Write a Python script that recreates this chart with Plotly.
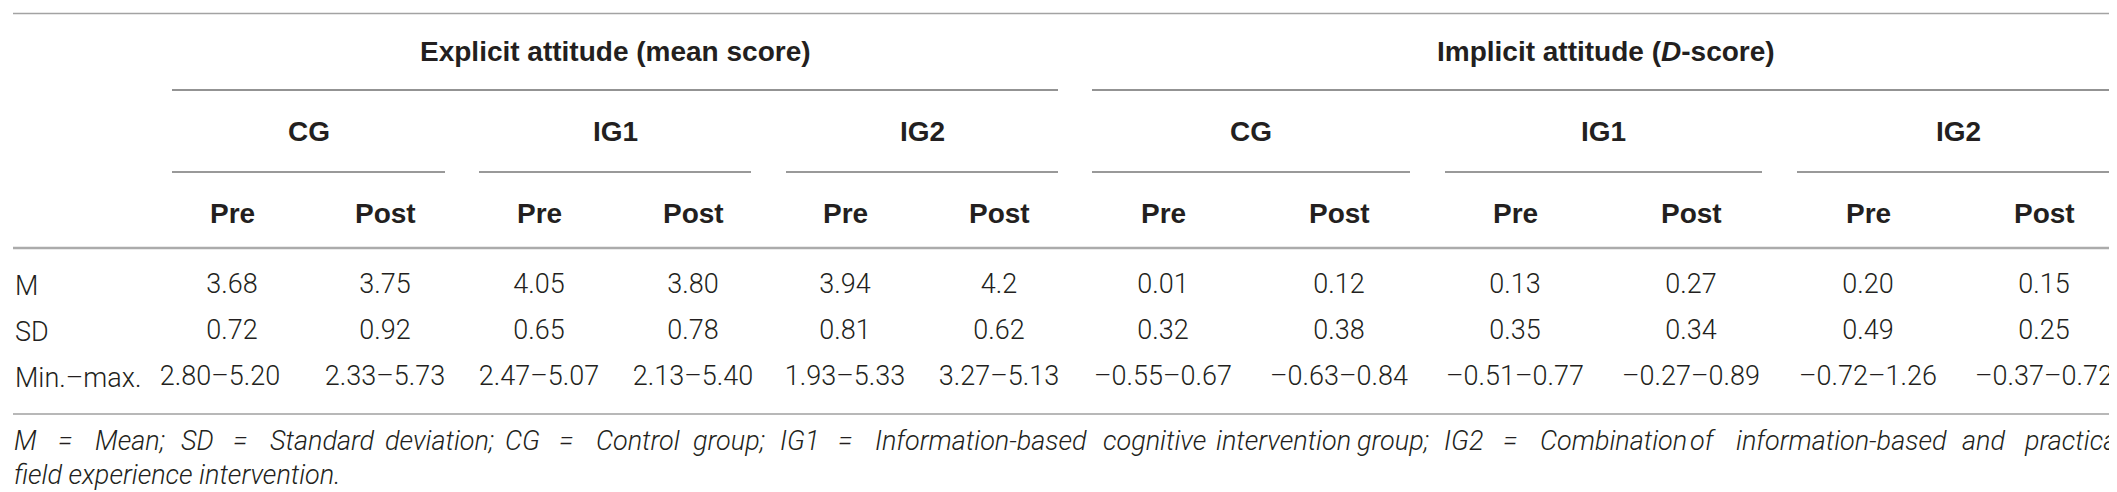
import plotly.graph_objects as go

# ---------------- data ----------------
measures = ["Explicit attitude (mean score)", "Implicit attitude (<i>D</i>-score)"]
groups = ["CG", "IG1", "IG2", "CG", "IG1", "IG2"]
times = ["Pre", "Post"] * 6
row_labels = ["M", "SD", "Min.–max."]
mean_vals = ["3.68", "3.75", "4.05", "3.80", "3.94", "4.2",
             "0.01", "0.12", "0.13", "0.27", "0.20", "0.15"]
sd_vals = ["0.72", "0.92", "0.65", "0.78", "0.81", "0.62",
           "0.32", "0.38", "0.35", "0.34", "0.49", "0.25"]
range_vals = ["2.80–5.20", "2.33–5.73", "2.47–5.07", "2.13–5.40", "1.93–5.33", "3.27–5.13",
              "–0.55–0.67", "–0.63–0.84", "–0.51–0.77", "–0.27–0.89", "–0.72–1.26", "–0.37–0.72"]
footnote_lines = [
    "M = Mean; SD = Standard deviation; CG = Control group; IG1 = Information-based cognitive "
    "intervention group; IG2 = Combination of information-based and practical",
    "field experience intervention.",
]

# ---------------- layout (positions / styles) ----------------
W, H = 2117, 492
col_x = [224, 377, 531, 685, 837, 991, 1155, 1331, 1507, 1683, 1860, 2036]
range_x = [212] + col_x[1:]
group_spans = [(164, 437), (471, 743), (778, 1050), (1084, 1402), (1437, 1754), (1789, 2111)]
measure_spans = [(164, 1050), (1084, 2111)]
y_measure, y_group, y_time = 43, 123, 205
row_y = [278, 324, 370]
foot_y = [433, 467]
left_x, right_x = 5, 2111
foot_right = 2100          # justified first footnote line ends about here
foot_natural_px = 1650     # rendered width of line 1 with normal word spacing

TXT = "#231f20"
light = dict(family="Roboto, Liberation Sans, Arial", size=27, color=TXT, weight=300)
bold = dict(family="Liberation Sans, Arial", size=28, color=TXT, weight="bold")

# approximate relative glyph advances (em) used only to justify the footnote line
CHAR_EM = {" ": 0.248, ".": 0.264, ";": 0.237, "=": 0.538, "-": 1.2, "1": 0.561, "2": 0.561,
           "a": 0.544, "b": 0.547, "c": 0.511, "d": 0.55, "e": 0.517, "f": 0.346, "g": 0.547,
           "h": 0.537, "i": 0.237, "l": 0.237, "m": 0.856, "n": 0.539, "o": 0.557, "p": 0.547,
           "r": 0.331, "s": 0.504, "t": 0.319, "u": 0.537, "v": 0.473, "x": 0.484,
           "C": 0.636, "D": 0.64, "G": 0.665, "I": 0.272, "M": 0.852, "S": 0.58}

def text_em(s):
    return sum(CHAR_EM.get(c, 0.5) for c in s)

fig = go.Figure()

body_rows = [mean_vals, sd_vals, range_vals]
body_x = [col_x, col_x, range_x]
for vals, xs, y in zip(body_rows, body_x, row_y):
    fig.add_trace(go.Scatter(
        x=xs, y=[y] * len(vals), text=vals, mode="text",
        textposition="middle center", textfont=light,
        hoverinfo="skip", showlegend=False,
    ))

annotations = []
for label, (a, b) in zip(measures, measure_spans):
    annotations.append(dict(x=(a + b) / 2, y=y_measure, text=label, showarrow=False,
                            xanchor="center", yanchor="middle", font=bold))
for label, (a, b) in zip(groups, group_spans):
    annotations.append(dict(x=(a + b) / 2, y=y_group, text=label, showarrow=False,
                            xanchor="center", yanchor="middle", font=bold))
for label, x in zip(times, col_x):
    annotations.append(dict(x=x, y=y_time, text=label, showarrow=False,
                            xanchor="center", yanchor="middle", font=bold))
for label, y in zip(row_labels, row_y):
    annotations.append(dict(x=left_x, y=y, text=label, showarrow=False,
                            xanchor="left", yanchor="middle", font=light))

foot_font = dict(light, style="italic")

# first footnote line: justified across the full width (word by word, left-anchored)
words = footnote_lines[0].split(" ")
n = len(words)
w_em = [text_em(w) for w in words]
natural_em = sum(w_em) + CHAR_EM[" "] * (n - 1)
px_per_em = foot_natural_px / natural_em
w_px = [e * px_per_em for e in w_em]
gap = (foot_right - left_x - sum(w_px)) / (n - 1)
for i, word in enumerate(words):
    x = left_x + sum(w_px[:i]) + gap * i
    annotations.append(dict(x=x, y=foot_y[0], text=word, showarrow=False,
                            xanchor="left", yanchor="middle", font=foot_font,
                            borderpad=0))
# last footnote line: natural spacing
annotations.append(dict(x=left_x, y=foot_y[1], text=footnote_lines[1], showarrow=False,
                        xanchor="left", yanchor="middle", font=foot_font, borderpad=0))

shapes = []
def hline(x0, x1, y, color, width):
    shapes.append(dict(type="line", xref="x", yref="y", x0=x0, x1=x1, y0=y, y1=y,
                       line=dict(color=color, width=width)))

hline(left_x, right_x, 5.5, "#a3a3a3", 1.6)
for a, b in measure_spans:
    hline(a, b, 82, "#6f6f6f", 1.6)
for a, b in group_spans:
    hline(a, b, 164, "#999999", 2)
hline(left_x, right_x, 240, "#ababab", 2.5)
hline(left_x, right_x, 406, "#b8b8b8", 2)

fig.update_layout(
    width=W, height=H,
    margin=dict(l=0, r=0, t=0, b=0),
    paper_bgcolor="white", plot_bgcolor="white",
    xaxis=dict(range=[0, W], visible=False, fixedrange=True),
    yaxis=dict(range=[H, 0], visible=False, fixedrange=True),
    annotations=annotations, shapes=shapes,
)

fig.write_html("out.html")
